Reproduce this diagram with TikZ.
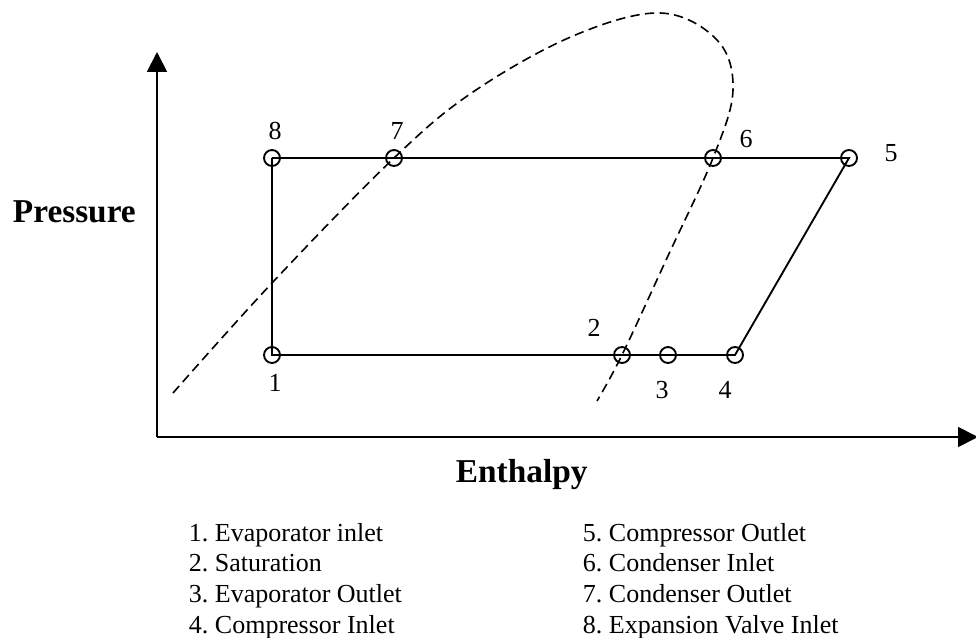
\documentclass[tikz,border=0pt]{standalone}
\usepackage{fontspec}
\setmainfont{Liberation Serif}
\usetikzlibrary{arrows.meta}
\frenchspacing

\begin{document}
\begin{tikzpicture}[x=0.75pt, y=-0.75pt, line width=1.4pt,
		state/.style={circle, draw, inner sep=0pt, minimum size=12pt},
		num/.style={inner sep=0pt, anchor=base, font=\fontsize{19.5}{23}\selectfont},
		legend/.style={inner sep=0pt, anchor=base west, font=\fontsize{19.5}{23}\selectfont},
		axislabel/.style={inner sep=0pt, anchor=base west, font=\fontsize{25}{30}\selectfont\bfseries},
		saturation/.style={dash pattern=on 7pt off 4pt, line width=1.2pt},
		axis/.style={-{Triangle[length=15pt, width=15pt]}}]
		\useasboundingbox (0, 0) rectangle (976, 638);
		% axes
		\coordinate (origin) at (157, 437);
		\coordinate (ytip) at (157, 52);
		\coordinate (xtip) at (978, 437);
		\draw[axis] (origin) -- (ytip);
		\draw[axis] (origin) -- (xtip);
		\node[axislabel] (pressure) at (12, 223) {Pressure};
		\node[axislabel] (enthalpy) at (455, 482) {Enthalpy};
		% saturation dome
		\draw[saturation] plot[smooth, tension=0.6] coordinates {(173, 393) (272, 283) (394, 158) (473, 92)
			(573, 36) (660, 13) (717, 40) (733, 90) (713, 158) (667, 258) (622, 355) (597, 401)};
		% cycle states
		\node[state] (p1) at (272, 355) {};
		\node[state] (p2) at (622, 355) {};
		\node[state] (p3) at (668, 355) {};
		\node[state] (p4) at (735, 355) {};
		\node[state] (p5) at (849, 158) {};
		\node[state] (p6) at (713, 158) {};
		\node[state] (p7) at (394, 158) {};
		\node[state] (p8) at (272, 158) {};
		\draw (p8.center) -- (p7.center) -- (p6.center) -- (p5.center) -- (p4.center) -- (p3.center)
			-- (p2.center) -- (p1.center) -- (p8.center);
		\node[num] (n1) at (275, 392) {1};
		\node[num] (n2) at (594, 337) {2};
		\node[num] (n3) at (662, 398) {3};
		\node[num] (n4) at (725, 398) {4};
		\node[num] (n5) at (891, 162) {5};
		\node[num] (n6) at (746, 148) {6};
		\node[num] (n7) at (397, 140) {7};
		\node[num] (n8) at (275, 140) {8};
		% legend
		\foreach \txt [count=\i] in {1. Evaporator inlet, 2. Saturation, 3. Evaporator Outlet, 4. Compressor Inlet}
			\node[legend] (leg\i) at (188, 510.3 + 30.7*\i) {\txt};
		\foreach \txt [count=\i] in {5. Compressor Outlet, 6. Condenser Inlet, 7. Condenser Outlet, 8. Expansion Valve Inlet}
			\node[legend] (leg\i b) at (582, 510.3 + 30.7*\i) {\txt};
	\end{tikzpicture}
\end{document}
